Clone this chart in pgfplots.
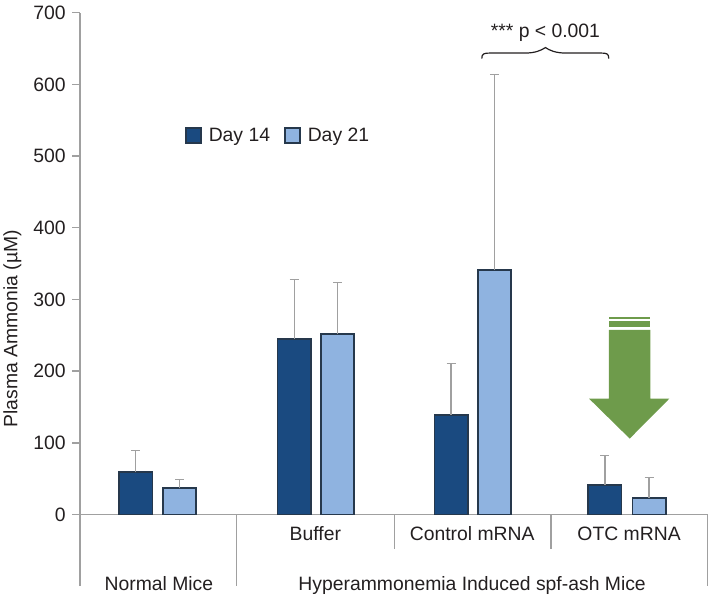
\documentclass[border=0pt]{standalone}
\usepackage{fontspec}
\setmainfont{Liberation Sans}
\usepackage{pgfplots}
\usepackage{pgfplotstable}
\pgfplotsset{compat=1.18}
\definecolor{dayA}{HTML}{1A4A80}
\definecolor{dayB}{HTML}{8FB3E0}
\definecolor{barEdge}{HTML}{26384C}
\definecolor{axisGray}{HTML}{A0A0A0}
\definecolor{txt}{HTML}{231F20}
\definecolor{arrowGreen}{HTML}{6E9B4B}
\newcommand{\chartfont}{\fontsize{19.4}{22}\selectfont}
\pgfplotstableread{
x y err
0.355 58.9 30.1
1.365 245 83
2.365 139 72
3.346 41.5 40.5
}\dayfourteen
\pgfplotstableread{
x y err
0.635 36.6 12.1
1.641 252 72
2.641 341 273
3.628 22.7 29.3
}\daytwentyone
\begin{document}
\begin{tikzpicture}
\begin{axis}[
  at={(0,0)},anchor=south west,
  scale only axis,
  width=629pt,height=575pt,
  xmin=0,xmax=4,ymin=-100,ymax=700,
  axis y line=left,
  axis x line=middle,
  axis line style={-,draw=axisGray,line width=1.4pt},
  ytick={0,100,...,700},
  xtick={1.5,2.5,3.5},
  xticklabels={Buffer,Control mRNA,OTC mRNA},
  hide obscured y ticks=false,
  hide obscured x ticks=false,
  tick style={draw=axisGray,line width=1.4pt},
  ytick style={draw=axisGray,line width=1.4pt},
  xtick style={draw=none},
  tick align=outside,
  major tick length=8pt,
  tick label style={font=\chartfont,text=txt},
  /pgf/number format/assume math mode=true,
  yticklabel style={xshift=-3pt},
  xticklabel style={anchor=base,yshift=-18pt},
  every axis y label/.style={at={(axis description cs:-0.108,0.449)},rotate=90,anchor=center,font=\chartfont,text=txt},
  ylabel={Plasma Ammonia (µM)},
  clip=false,
  ybar,
  bar shift=0pt,
  bar width=0.212,
  legend columns=2,
  legend style={at={(axis cs:1.262,529)},anchor=center,draw=none,fill=none,font=\chartfont,text=txt,inner sep=0pt,
    /tikz/every odd column/.append style={column sep=5pt},
    /tikz/every even column/.append style={column sep=12pt}},
  legend image code/.code={\draw[#1,line width=1.8pt] (0cm,-7.5pt) rectangle (15pt,7.5pt);},
]
\addplot[fill=dayA,draw=barEdge,line width=1.8pt,
  error bars/.cd,y dir=plus,y explicit,error bar style={draw=axisGray,line width=1.4pt},error mark options={draw=axisGray,line width=1.4pt,mark size=4.5pt,rotate=90}]
  table[x=x,y=y,y error=err]{\dayfourteen};
\addplot[fill=dayB,draw=barEdge,line width=1.8pt,
  error bars/.cd,y dir=plus,y explicit,error bar style={draw=axisGray,line width=1.4pt},error mark options={draw=axisGray,line width=1.4pt,mark size=4.5pt,rotate=90}]
  table[x=x,y=y,y error=err]{\daytwentyone};
\legend{Day 14,Day 21}
\end{axis}
\begin{scope}[x=1pt,y=-1pt,shift={(-79pt,587pt)}]
  \path (0.5,-0.7) rectangle (710.5,594.3);
  % category separators
  \draw[axisGray,line width=1.4pt] (236,515) -- (236,587);
  \draw[axisGray,line width=1.4pt] (394,515) -- (394,550);
  \draw[axisGray,line width=1.4pt] (551,515) -- (551,550);
  \draw[axisGray,line width=1.4pt] (708,515) -- (708,587);
  % group labels
  \node[anchor=base,font=\chartfont,text=txt] at (158,591) {Normal Mice};
  \node[anchor=base,font=\chartfont,text=txt] at (472,591) {Hyperammonemia Induced spf-ash Mice};
  % significance
  \node[anchor=base,font=\chartfont,text=txt] at (545.5,37) {*** p < 0.001};
  \draw[txt,line width=1.2pt] (481.7,58) .. controls (481.7,53) and (484,52.5) .. (490,52.5)
     -- (525,52.5) .. controls (535,52.5) and (541,50) .. (545.5,47)
     .. controls (550,50) and (556,52.5) .. (566,52.5)
     -- (601,52.5) .. controls (607,52.5) and (609,53) .. (609,58);
  % arrow
  \fill[arrowGreen] (609,316.7) rectangle (650.7,319);
  \fill[arrowGreen] (609,321) rectangle (650.7,327.3);
  \fill[arrowGreen] (609,330) -- (650.7,330) -- (650.7,399) -- (669.7,399) -- (630,439) -- (589.3,399) -- (609,399) -- cycle;
\end{scope}
\end{tikzpicture}
\end{document}
